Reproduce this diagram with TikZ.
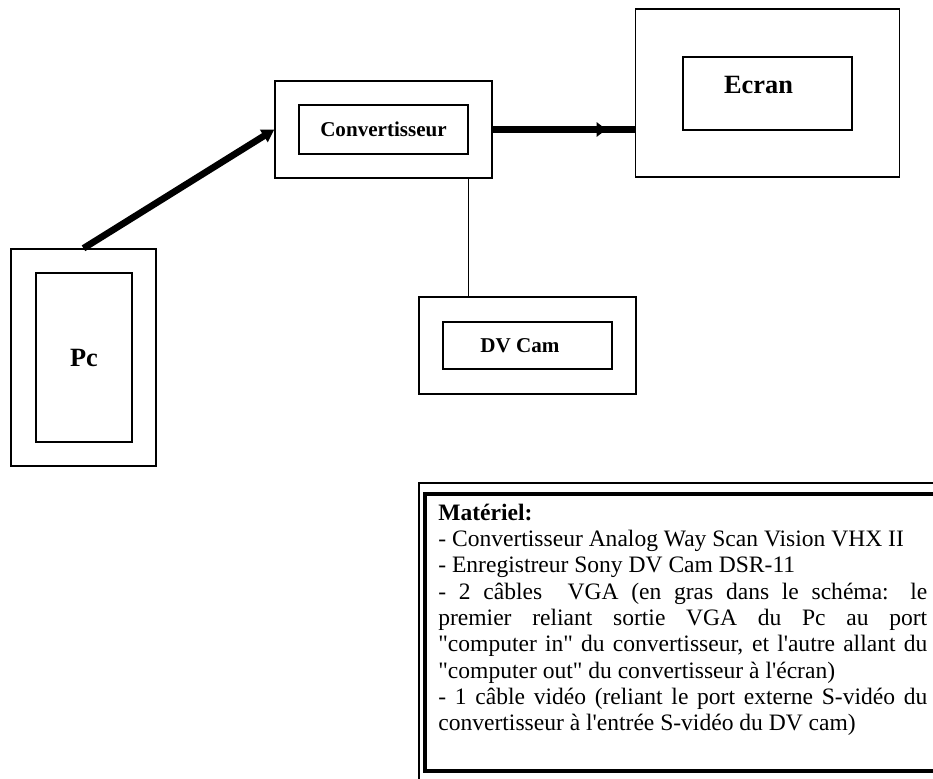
\documentclass[tikz,border=0pt]{standalone}
\usepackage{fontspec}
\setmainfont{Liberation Serif}
\newfontfamily\plainserif{Liberation Serif}
\usetikzlibrary{arrows.meta}
\tikzset{
  outerbox/.style={draw,line width=0.85pt,inner sep=0pt},
  innerbox/.style={draw,line width=0.85pt,inner sep=0pt,font=\fontsize{12}{14}\selectfont\bfseries},
  cable/.style={line width=3.8pt},
}
\begin{document}
\begin{tikzpicture}[x=0.02cm,y=-0.02cm]
\clip(0,0)rectangle(933,778);
% appareils
\node[outerbox,minimum width=2.9cm,minimum height=4.34cm](pc)at(83.5,357.5){};
\node[innerbox,minimum width=1.92cm,minimum height=3.38cm,font=\fontsize{15}{18}\selectfont\bfseries](pcin)at(84,357.5){Pc};
\node[outerbox,minimum width=4.34cm,minimum height=1.94cm](conv)at(383.5,129.5){};
\node[innerbox,minimum width=3.38cm,minimum height=0.98cm](convin)at(383.5,129.5){Convertisseur};
\node[outerbox,minimum width=5.28cm,minimum height=3.36cm](ecran)at(767.5,93){};
\node[innerbox,minimum width=3.38cm,minimum height=1.46cm](ecranin)at(767.5,93.5){};
\node[font=\fontsize{15}{18}\selectfont\bfseries](ecrantxt)at(758.5,84.5){Ecran};
\node[outerbox,minimum width=4.34cm,minimum height=1.94cm](dv)at(527.5,345.5){};
\node[innerbox,minimum width=3.38cm,minimum height=0.94cm](dvin)at(527.5,345.5){};
\node[font=\fontsize{12}{14}\selectfont\bfseries](dvtxt)at(520,345.5){DV Cam};
% cables
\draw[cable,-{Triangle[length=7pt,width=8pt]}](pc.north)--(conv.west);
\draw[cable](conv.east)--coordinate[pos=0.8](ecrantip)(conv.east-|ecran.west);
\draw[cable,-{Triangle[length=5.5pt,width=8pt]}](conv.east)--(ecrantip);
\draw[line width=0.6pt](convin.east|-conv.south)--(convin.east|-dv.north);
% materiel
\draw[line width=0.7pt](419,483)rectangle(960,800);
\draw[line width=1.9pt](425,494)rectangle(950,771);
\node[anchor=base west,inner sep=0pt,text width=9.78cm,align=justify,font=\plainserif\fontsize{13.4}{15}\selectfont](materiel)at(438,520){\sloppy
\textbf{Matériel:}\\
- Convertisseur Analog Way Scan Vision VHX II\\
- Enregistreur Sony DV Cam DSR-11\\
- 2 câbles\ \ VGA (en gras dans le schéma: le\linebreak
premier reliant sortie VGA du Pc au port\linebreak
"computer in" du convertisseur, et l'autre allant du\linebreak
"computer out" du convertisseur à l'écran)\\
- 1 câble vidéo (reliant le port externe S-vidéo du\linebreak
convertisseur à l'entrée S-vidéo du DV cam)};
\end{tikzpicture}
\end{document}
